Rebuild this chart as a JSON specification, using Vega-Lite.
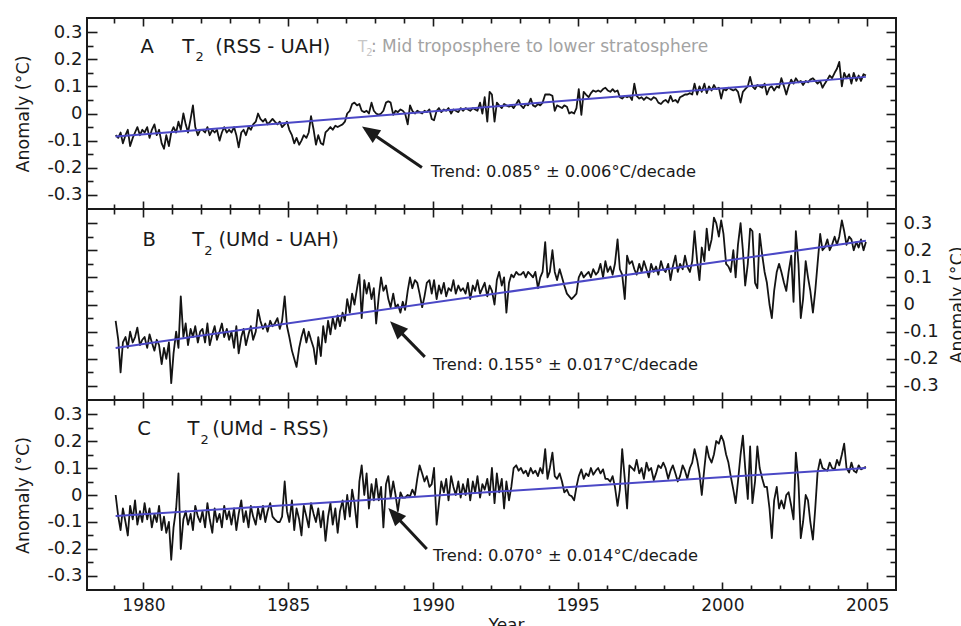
{
"$schema": "https://vega.github.io/schema/vega-lite/v6.json",
"padding": {"left": 13, "top": 16, "right": 0, "bottom": 0},
"config": {"font": "DejaVu Sans", "view": {"stroke": "#1a1a1a", "strokeWidth": 2}},
"spacing": 0,
"bounds": "flush",
"datasets": {
"trend": [
{"p":"A","t":1979.04,"v":-0.085},{"p":"A","t":2004.96,"v":0.135},
{"p":"B","t":1979.04,"v":-0.16},{"p":"B","t":2004.96,"v":0.235},
{"p":"C","t":1979.04,"v":-0.078},{"p":"C","t":2004.96,"v":0.1}
],
"series": [
{"t":1979.04,"a":-0.08,"b":-0.06,"c":0},{"t":1979.13,"a":-0.09,"b":-0.13,"c":-0.08},{"t":1979.21,"a":-0.07,"b":-0.25,"c":-0.13},{"t":1979.29,"a":-0.11,"b":-0.14,"c":-0.05},{"t":1979.38,"a":-0.08,"b":-0.12,"c":-0.1},{"t":1979.46,"a":-0.06,"b":-0.16,"c":-0.15},{"t":1979.54,"a":-0.12,"b":-0.1,"c":-0.04},{"t":1979.63,"a":-0.09,"b":-0.14,"c":-0.09},{"t":1979.71,"a":-0.07,"b":-0.12,"c":-0.02},{"t":1979.79,"a":-0.05,"b":-0.085,"c":-0.11},{"t":1979.88,"a":-0.08,"b":-0.15,"c":-0.06},{"t":1979.96,"a":-0.06,"b":-0.13,"c":-0.1},
{"t":1980.04,"a":-0.07,"b":-0.12,"c":-0.03},{"t":1980.13,"a":-0.05,"b":-0.16,"c":-0.09},{"t":1980.21,"a":-0.09,"b":-0.11,"c":-0.05},{"t":1980.29,"a":-0.06,"b":-0.14,"c":-0.12},{"t":1980.38,"a":-0.04,"b":-0.17,"c":-0.07},{"t":1980.46,"a":-0.08,"b":-0.13,"c":-0.1},{"t":1980.54,"a":-0.06,"b":-0.15,"c":-0.04},{"t":1980.63,"a":-0.11,"b":-0.22,"c":-0.13},{"t":1980.71,"a":-0.13,"b":-0.16,"c":-0.08},{"t":1980.79,"a":-0.08,"b":-0.2,"c":-0.14},{"t":1980.88,"a":-0.12,"b":-0.14,"c":-0.1},{"t":1980.96,"a":-0.07,"b":-0.29,"c":-0.24},
{"t":1981.04,"a":-0.05,"b":-0.18,"c":-0.12},{"t":1981.13,"a":-0.07,"b":-0.1,"c":-0.05},{"t":1981.21,"a":-0.03,"b":-0.16,"c":0.08},{"t":1981.29,"a":-0.06,"b":0.03,"c":-0.2},{"t":1981.38,"a":0,"b":-0.12,"c":-0.09},{"t":1981.46,"a":-0.04,"b":-0.07,"c":-0.06},{"t":1981.54,"a":-0.07,"b":-0.15,"c":-0.11},{"t":1981.63,"a":-0.02,"b":-0.09,"c":-0.07},{"t":1981.71,"a":0.03,"b":-0.12,"c":-0.13},{"t":1981.79,"a":-0.05,"b":-0.08,"c":-0.04},{"t":1981.88,"a":-0.08,"b":-0.14,"c":-0.08},{"t":1981.96,"a":-0.06,"b":-0.1,"c":-0.1},
{"t":1982.04,"a":-0.06,"b":-0.09,"c":-0.06},{"t":1982.13,"a":-0.07,"b":-0.14,"c":-0.12},{"t":1982.21,"a":-0.05,"b":-0.07,"c":-0.03},{"t":1982.29,"a":-0.08,"b":-0.15,"c":-0.09},{"t":1982.38,"a":-0.06,"b":-0.11,"c":-0.14},{"t":1982.46,"a":-0.07,"b":-0.08,"c":-0.05},{"t":1982.54,"a":-0.06,"b":-0.13,"c":-0.1},{"t":1982.63,"a":-0.1,"b":-0.1,"c":-0.07},{"t":1982.71,"a":-0.07,"b":-0.07,"c":-0.12},{"t":1982.79,"a":-0.05,"b":-0.12,"c":-0.04},{"t":1982.88,"a":-0.07,"b":-0.09,"c":-0.09},{"t":1982.96,"a":-0.06,"b":-0.13,"c":-0.06},
{"t":1983.04,"a":-0.07,"b":-0.1,"c":-0.11},{"t":1983.13,"a":-0.05,"b":-0.16,"c":-0.05},{"t":1983.21,"a":-0.08,"b":-0.08,"c":-0.13},{"t":1983.29,"a":-0.125,"b":-0.18,"c":-0.07},{"t":1983.38,"a":-0.07,"b":-0.12,"c":-0.02},{"t":1983.46,"a":-0.06,"b":-0.09,"c":-0.1},{"t":1983.54,"a":-0.08,"b":-0.15,"c":-0.06},{"t":1983.63,"a":-0.05,"b":-0.11,"c":-0.12},{"t":1983.71,"a":-0.06,"b":-0.08,"c":-0.04},{"t":1983.79,"a":-0.04,"b":-0.13,"c":-0.08},{"t":1983.88,"a":-0.03,"b":-0.1,"c":-0.11},{"t":1983.96,"a":0,"b":-0.02,"c":-0.05},
{"t":1984.04,"a":-0.02,"b":-0.06,"c":-0.09},{"t":1984.13,"a":-0.03,"b":-0.09,"c":-0.04},{"t":1984.21,"a":-0.02,"b":-0.07,"c":-0.1},{"t":1984.29,"a":-0.04,"b":-0.1,"c":-0.06},{"t":1984.38,"a":-0.03,"b":-0.06,"c":-0.03},{"t":1984.46,"a":-0.02,"b":-0.08,"c":-0.08},{"t":1984.54,"a":-0.03,"b":-0.07,"c":-0.09},{"t":1984.63,"a":-0.04,"b":-0.05,"c":-0.1},{"t":1984.71,"a":-0.03,"b":-0.09,"c":-0.1},{"t":1984.79,"a":-0.05,"b":-0.06,"c":-0.08},{"t":1984.88,"a":-0.04,"b":0.03,"c":0.05},{"t":1984.96,"a":-0.03,"b":-0.08,"c":-0.06},
{"t":1985.04,"a":-0.06,"b":-0.12,"c":-0.1},{"t":1985.13,"a":-0.08,"b":-0.17,"c":-0.02},{"t":1985.21,"a":-0.11,"b":-0.2,"c":-0.13},{"t":1985.29,"a":-0.09,"b":-0.23,"c":-0.05},{"t":1985.38,"a":-0.115,"b":-0.16,"c":-0.09},{"t":1985.46,"a":-0.1,"b":-0.12,"c":-0.15},{"t":1985.54,"a":-0.08,"b":-0.09,"c":-0.04},{"t":1985.63,"a":-0.09,"b":-0.14,"c":-0.08},{"t":1985.71,"a":-0.07,"b":-0.1,"c":-0.12},{"t":1985.79,"a":-0.01,"b":-0.13,"c":-0.03},{"t":1985.88,"a":-0.06,"b":-0.16,"c":-0.07},{"t":1985.96,"a":-0.115,"b":-0.22,"c":-0.1},
{"t":1986.04,"a":-0.08,"b":-0.12,"c":-0.05},{"t":1986.13,"a":-0.11,"b":-0.19,"c":-0.12},{"t":1986.21,"a":-0.115,"b":-0.08,"c":-0.06},{"t":1986.29,"a":-0.07,"b":-0.14,"c":-0.17},{"t":1986.38,"a":-0.06,"b":-0.06,"c":-0.08},{"t":1986.46,"a":-0.05,"b":-0.11,"c":-0.03},{"t":1986.54,"a":-0.06,"b":-0.05,"c":-0.11},{"t":1986.63,"a":-0.045,"b":-0.09,"c":-0.05},{"t":1986.71,"a":-0.05,"b":-0.04,"c":-0.14},{"t":1986.79,"a":-0.045,"b":-0.08,"c":-0.06},{"t":1986.88,"a":-0.04,"b":-0.03,"c":-0.02},{"t":1986.96,"a":-0.03,"b":-0.06,"c":-0.09},
{"t":1987.04,"a":0,"b":0.02,"c":0},{"t":1987.13,"a":0.01,"b":-0.03,"c":-0.08},{"t":1987.21,"a":0.035,"b":0.04,"c":0.02},{"t":1987.29,"a":0.04,"b":0,"c":-0.03},{"t":1987.38,"a":0.03,"b":0.06,"c":-0.12},{"t":1987.46,"a":0.035,"b":0.11,"c":0.05},{"t":1987.54,"a":0.01,"b":-0.05,"c":0.11},{"t":1987.63,"a":0.005,"b":0.09,"c":0},{"t":1987.71,"a":0.01,"b":0.04,"c":0.08},{"t":1987.79,"a":0,"b":0.08,"c":-0.05},{"t":1987.88,"a":0.04,"b":0.02,"c":0.04},{"t":1987.96,"a":0.01,"b":0.06,"c":-0.02},
{"t":1988.04,"a":0,"b":-0.07,"c":0.06},{"t":1988.13,"a":-0.005,"b":0.03,"c":-0.02},{"t":1988.21,"a":0,"b":0.1,"c":0.03},{"t":1988.29,"a":0.01,"b":0.05,"c":-0.12},{"t":1988.38,"a":0.04,"b":0.07,"c":0.04},{"t":1988.46,"a":0.045,"b":0.02,"c":0.07},{"t":1988.54,"a":0.04,"b":-0.01,"c":-0.01},{"t":1988.63,"a":-0.005,"b":0.04,"c":0.05},{"t":1988.71,"a":0.01,"b":-0.01,"c":0},{"t":1988.79,"a":0.005,"b":0,"c":-0.06},{"t":1988.88,"a":0.015,"b":-0.03,"c":0.01},{"t":1988.96,"a":0.01,"b":0.01,"c":-0.01},
{"t":1989.04,"a":0,"b":-0.02,"c":-0.01},{"t":1989.13,"a":-0.04,"b":0.05,"c":0},{"t":1989.21,"a":0.03,"b":0.1,"c":-0.005},{"t":1989.29,"a":0.01,"b":0.06,"c":0.02},{"t":1989.38,"a":0,"b":0.09,"c":0},{"t":1989.46,"a":0.01,"b":0.08,"c":0.06},{"t":1989.54,"a":0.005,"b":0.04,"c":0.11},{"t":1989.63,"a":0,"b":-0.01,"c":0.08},{"t":1989.71,"a":0.01,"b":0.03,"c":0.05},{"t":1989.79,"a":0.005,"b":0.08,"c":0.07},{"t":1989.88,"a":0.015,"b":0.09,"c":0.03},{"t":1989.96,"a":-0.02,"b":0.04,"c":0.04},
{"t":1990.04,"a":-0.025,"b":0.09,"c":0.1},{"t":1990.13,"a":0.01,"b":0.02,"c":-0.11},{"t":1990.21,"a":0.02,"b":0.07,"c":-0.03},{"t":1990.29,"a":0.005,"b":0.04,"c":0.05},{"t":1990.38,"a":0.015,"b":0.08,"c":0.01},{"t":1990.46,"a":0.01,"b":0.03,"c":0.06},{"t":1990.54,"a":0.02,"b":0.06,"c":-0.02},{"t":1990.63,"a":0,"b":0.05,"c":0.07},{"t":1990.71,"a":0.015,"b":0.09,"c":0.03},{"t":1990.79,"a":0.01,"b":0.04,"c":0},{"t":1990.88,"a":0.005,"b":0.07,"c":0.05},{"t":1990.96,"a":0.02,"b":0.05,"c":-0.01},
{"t":1991.04,"a":0.01,"b":0.06,"c":0.04},{"t":1991.13,"a":0.02,"b":0.04,"c":0},{"t":1991.21,"a":0.015,"b":0.08,"c":0.06},{"t":1991.29,"a":0.01,"b":0.02,"c":-0.02},{"t":1991.38,"a":0.02,"b":0.07,"c":0.05},{"t":1991.46,"a":0.015,"b":0.05,"c":0.01},{"t":1991.54,"a":0.01,"b":0.09,"c":0.07},{"t":1991.63,"a":0.04,"b":0.04,"c":-0.01},{"t":1991.71,"a":0,"b":0.06,"c":0.04},{"t":1991.79,"a":0.06,"b":0.08,"c":0.02},{"t":1991.88,"a":-0.03,"b":0.03,"c":0.06},{"t":1991.96,"a":0.08,"b":0.07,"c":0},
{"t":1992.04,"a":0.07,"b":0.05,"c":0.1},{"t":1992.13,"a":-0.03,"b":0,"c":-0.03},{"t":1992.21,"a":0.04,"b":0.09,"c":0.08},{"t":1992.29,"a":0.03,"b":0.12,"c":0.01},{"t":1992.38,"a":0.02,"b":0.07,"c":0.06},{"t":1992.46,"a":0.035,"b":0.1,"c":-0.05},{"t":1992.54,"a":0.03,"b":-0.03,"c":0.05},{"t":1992.63,"a":0.025,"b":0.08,"c":-0.02},{"t":1992.71,"a":0.03,"b":0.11,"c":0.03},{"t":1992.79,"a":0.02,"b":0.1,"c":0.1},{"t":1992.88,"a":0.035,"b":0.12,"c":0.11},{"t":1992.96,"a":0.05,"b":0.11,"c":0.09},
{"t":1993.04,"a":0.03,"b":0.11,"c":0.1},{"t":1993.13,"a":0.02,"b":0.12,"c":0.08},{"t":1993.21,"a":0.035,"b":0.1,"c":0.09},{"t":1993.29,"a":0.03,"b":0.12,"c":0.07},{"t":1993.38,"a":0.055,"b":0.11,"c":0.1},{"t":1993.46,"a":0.03,"b":0.1,"c":0.08},{"t":1993.54,"a":0.025,"b":0.12,"c":0.09},{"t":1993.63,"a":0.035,"b":0.06,"c":0.07},{"t":1993.71,"a":0.03,"b":0.1,"c":0.1},{"t":1993.79,"a":0.04,"b":0.12,"c":0.08},{"t":1993.88,"a":0.07,"b":0.23,"c":0.17},{"t":1993.96,"a":0.07,"b":0.1,"c":0.06},
{"t":1994.04,"a":0.07,"b":0.12,"c":0.1},{"t":1994.13,"a":0.065,"b":0.2,"c":0.157},{"t":1994.21,"a":0.01,"b":0.12,"c":0.07},{"t":1994.29,"a":0.03,"b":0.09,"c":0.06},{"t":1994.38,"a":0.025,"b":0.13,"c":0.08},{"t":1994.46,"a":0.02,"b":0.1,"c":0.05},{"t":1994.54,"a":0.03,"b":0.07,"c":0.01},{"t":1994.63,"a":0.025,"b":0.04,"c":0.02},{"t":1994.71,"a":0,"b":0.03,"c":0},{"t":1994.79,"a":0.005,"b":0.02,"c":-0.004},{"t":1994.88,"a":0,"b":0.03,"c":-0.02},{"t":1994.96,"a":0.02,"b":0.04,"c":0.03},
{"t":1995.04,"a":0.09,"b":0.1,"c":0.07},{"t":1995.13,"a":-0.005,"b":0.12,"c":0.095},{"t":1995.21,"a":0.08,"b":0.1,"c":0.06},{"t":1995.29,"a":0.07,"b":0.11,"c":0.08},{"t":1995.38,"a":0.06,"b":0.12,"c":0.07},{"t":1995.46,"a":0.075,"b":0.1,"c":0.1},{"t":1995.54,"a":0.085,"b":0.13,"c":0.075},{"t":1995.63,"a":0.08,"b":0.11,"c":0.09},{"t":1995.71,"a":0.085,"b":0.12,"c":0.1},{"t":1995.79,"a":0.08,"b":0.15,"c":0.08},{"t":1995.88,"a":0.09,"b":0.1,"c":0.095},{"t":1995.96,"a":0.095,"b":0.16,"c":0.06},
{"t":1996.04,"a":0.085,"b":0.12,"c":0.06},{"t":1996.13,"a":0.08,"b":0.14,"c":0.05},{"t":1996.21,"a":0.09,"b":0.11,"c":0.07},{"t":1996.29,"a":0.08,"b":0.15,"c":0.03},{"t":1996.38,"a":0.085,"b":0.24,"c":-0.04},{"t":1996.46,"a":0.06,"b":0.13,"c":0.02},{"t":1996.54,"a":0.055,"b":0.11,"c":0.17},{"t":1996.63,"a":0.065,"b":0.02,"c":0.06},{"t":1996.71,"a":0.06,"b":0.18,"c":-0.05},{"t":1996.79,"a":0.065,"b":0.15,"c":0.11},{"t":1996.88,"a":0.05,"b":0.16,"c":0.1},{"t":1996.96,"a":0.11,"b":0.13,"c":0.09},
{"t":1997.04,"a":0.065,"b":0.11,"c":0.13},{"t":1997.13,"a":0.055,"b":0.15,"c":0.08},{"t":1997.21,"a":0.06,"b":0.12,"c":0.1},{"t":1997.29,"a":0.05,"b":0.16,"c":0.06},{"t":1997.38,"a":0.06,"b":0.13,"c":0.12},{"t":1997.46,"a":0.055,"b":0.1,"c":0.09},{"t":1997.54,"a":0.05,"b":0.15,"c":0.1},{"t":1997.63,"a":0.06,"b":0.12,"c":0.055},{"t":1997.71,"a":0.055,"b":0.14,"c":0.08},{"t":1997.79,"a":0.04,"b":0.11,"c":0.11},{"t":1997.88,"a":0.035,"b":0.16,"c":0.1},{"t":1997.96,"a":0.045,"b":0.13,"c":0.12},
{"t":1998.04,"a":0.05,"b":0.12,"c":0.1},{"t":1998.13,"a":0.04,"b":0.15,"c":0.06},{"t":1998.21,"a":0.065,"b":0.09,"c":0.09},{"t":1998.29,"a":0.045,"b":0.14,"c":0.11},{"t":1998.38,"a":0.05,"b":0.18,"c":0.08},{"t":1998.46,"a":0.04,"b":0.12,"c":0.05},{"t":1998.54,"a":0.06,"b":0.15,"c":0.07},{"t":1998.63,"a":0.065,"b":0.13,"c":0.11},{"t":1998.71,"a":0.07,"b":0.18,"c":0.09},{"t":1998.79,"a":0.07,"b":0.14,"c":0.06},{"t":1998.88,"a":0.075,"b":0.12,"c":0.1},{"t":1998.96,"a":0.07,"b":0.16,"c":0.12},
{"t":1999.04,"a":0.11,"b":0.27,"c":0.17},{"t":1999.13,"a":0.07,"b":0.16,"c":0.13},{"t":1999.21,"a":0.1,"b":0.09,"c":0.08},{"t":1999.29,"a":0.08,"b":0.21,"c":0},{"t":1999.38,"a":0.11,"b":0.16,"c":0.1},{"t":1999.46,"a":0.075,"b":0.28,"c":0.18},{"t":1999.54,"a":0.1,"b":0.2,"c":0.14},{"t":1999.63,"a":0.085,"b":0.24,"c":0.12},{"t":1999.71,"a":0.105,"b":0.32,"c":0.15},{"t":1999.79,"a":0.09,"b":0.3,"c":0.2},{"t":1999.88,"a":0.095,"b":0.25,"c":0.19},{"t":1999.96,"a":0.055,"b":0.31,"c":0.22},
{"t":2000.04,"a":0.09,"b":0.26,"c":0.2},{"t":2000.13,"a":0.085,"b":0.15,"c":0.15},{"t":2000.21,"a":0.095,"b":0.14,"c":0.12},{"t":2000.29,"a":0.09,"b":0.12,"c":0.07},{"t":2000.38,"a":0.085,"b":0.2,"c":0.02},{"t":2000.46,"a":0.09,"b":0.1,"c":-0.03},{"t":2000.54,"a":0.08,"b":0.22,"c":0.05},{"t":2000.63,"a":0.04,"b":0.3,"c":0.15},{"t":2000.71,"a":0.08,"b":0.2,"c":0.22},{"t":2000.79,"a":0.09,"b":0.07,"c":0.1},{"t":2000.88,"a":0.1,"b":0.15,"c":-0.015},{"t":2000.96,"a":0.135,"b":0.28,"c":0.18},
{"t":2001.04,"a":0.1,"b":0.27,"c":-0.03},{"t":2001.13,"a":0.09,"b":0.08,"c":0.05},{"t":2001.21,"a":0.105,"b":0.06,"c":0.18},{"t":2001.29,"a":0.1,"b":0.26,"c":0.1},{"t":2001.38,"a":0.095,"b":0.18,"c":0.06},{"t":2001.46,"a":0.11,"b":0.12,"c":0.03},{"t":2001.54,"a":0.07,"b":0.08,"c":0.03},{"t":2001.63,"a":0.095,"b":0,"c":-0.05},{"t":2001.71,"a":0.1,"b":-0.05,"c":-0.16},{"t":2001.79,"a":0.085,"b":0.05,"c":-0.02},{"t":2001.88,"a":0.1,"b":0.12,"c":0.03},{"t":2001.96,"a":0.095,"b":0.15,"c":-0.05},
{"t":2002.04,"a":0.13,"b":0.12,"c":-0.02},{"t":2002.13,"a":0.1,"b":0.08,"c":-0.05},{"t":2002.21,"a":0.07,"b":0.05,"c":0},{"t":2002.29,"a":0.1,"b":0.12,"c":0.01},{"t":2002.38,"a":0.125,"b":0.18,"c":-0.04},{"t":2002.46,"a":0.11,"b":0.01,"c":-0.09},{"t":2002.54,"a":0.13,"b":0.27,"c":0.157},{"t":2002.63,"a":0.115,"b":0.15,"c":0.05},{"t":2002.71,"a":0.12,"b":-0.05,"c":-0.16},{"t":2002.79,"a":0.105,"b":0.02,"c":-0.1},{"t":2002.88,"a":0.12,"b":0.16,"c":0},{"t":2002.96,"a":0.115,"b":0.1,"c":-0.02},
{"t":2003.04,"a":0.125,"b":0.05,"c":-0.1},{"t":2003.13,"a":0.13,"b":-0.03,"c":-0.165},{"t":2003.21,"a":0.12,"b":0.05,"c":-0.05},{"t":2003.29,"a":0.11,"b":0.15,"c":0.083},{"t":2003.38,"a":0.12,"b":0.26,"c":0.132},{"t":2003.46,"a":0.095,"b":0.2,"c":0.1},{"t":2003.54,"a":0.11,"b":0.21,"c":0.095},{"t":2003.63,"a":0.125,"b":0.24,"c":0.09},{"t":2003.71,"a":0.14,"b":0.2,"c":0.12},{"t":2003.79,"a":0.13,"b":0.22,"c":0.1},{"t":2003.88,"a":0.15,"b":0.25,"c":0.095},{"t":2003.96,"a":0.165,"b":0.22,"c":0.13},
{"t":2004.04,"a":0.19,"b":0.25,"c":0.11},{"t":2004.13,"a":0.1,"b":0.31,"c":0.15},{"t":2004.21,"a":0.15,"b":0.27,"c":0.19},{"t":2004.29,"a":0.13,"b":0.22,"c":0.1},{"t":2004.38,"a":0.145,"b":0.25,"c":0.083},{"t":2004.46,"a":0.11,"b":0.24,"c":0.12},{"t":2004.54,"a":0.15,"b":0.2,"c":0.09},{"t":2004.63,"a":0.12,"b":0.23,"c":0.083},{"t":2004.71,"a":0.14,"b":0.21,"c":0.11},{"t":2004.79,"a":0.12,"b":0.24,"c":0.095},{"t":2004.88,"a":0.145,"b":0.2,"c":0.1},{"t":2004.96,"a":0.14,"b":0.23,"c":0.105}
]
},
"vconcat": [
{
"width": 809, "height": 191,
"resolve": {"axis": {"x": "independent", "y": "independent"}},
"layer": [
{"data": {"name": "series"}, "mark": {"type": "line", "color": "#141414", "strokeWidth": 1.8, "strokeJoin": "round"},
 "encoding": {
  "x": {"field": "t", "type": "quantitative", "scale": {"domain": [1978.05, 2006], "nice": false, "zero": false},
   "axis": {"orient": "bottom", "values": [1979,1980,1981,1982,1983,1984,1985,1986,1987,1988,1989,1990,1991,1992,1993,1994,1995,1996,1997,1998,1999,2000,2001,2002,2003,2004,2005], "domain": false, "grid": false, "labels": false, "title": null, "tickColor": "#1a1a1a", "tickWidth": 1.6, "tickSize": {"condition": {"test": "datum.value % 5 === 0", "value": -8}, "value": -5}}},
  "y": {"field": "a", "type": "quantitative", "scale": {"domain": [-0.352, 0.352], "nice": false, "zero": false},
   "axis": {"orient": "left", "values": [-0.3,-0.25,-0.2,-0.15,-0.1,-0.05,0,0.05,0.1,0.15,0.2,0.25,0.3], "domain": false, "grid": false, "tickColor": "#1a1a1a", "tickWidth": 1.6, "tickSize": {"condition": {"test": "abs(datum.value*10 - round(datum.value*10)) < 0.001", "value": -10}, "value": -6}, "labelExpr": "abs(datum.value*10 - round(datum.value*10)) < 0.001 ? (datum.value == 0 ? '0' : (datum.value < 0 ? '-' : '') + format(abs(datum.value), '.1f')) : ''", "labelFontSize": 18, "labelColor": "#1a1a1a", "labelPadding": 15, "labelFlush": false, "labelOverlap": false, "title": "Anomaly (°C)", "titleFontSize": 17.5, "titleFontWeight": "normal", "titleColor": "#1a1a1a", "titlePadding": 14}}
 }},
{"data": {"name": "trend"}, "transform": [{"filter": "datum.p === 'A'"}], "mark": {"type": "line", "color": "#4b48c6", "strokeWidth": 2},
 "encoding": {
  "x": {"field": "t", "type": "quantitative", "scale": {"domain": [1978.05, 2006], "nice": false, "zero": false},
   "axis": {"orient": "top", "values": [1979,1980,1981,1982,1983,1984,1985,1986,1987,1988,1989,1990,1991,1992,1993,1994,1995,1996,1997,1998,1999,2000,2001,2002,2003,2004,2005], "domain": false, "grid": false, "labels": false, "title": null, "tickColor": "#1a1a1a", "tickWidth": 1.6, "tickSize": {"condition": {"test": "datum.value % 5 === 0", "value": -8}, "value": -5}}},
  "y": {"field": "v", "type": "quantitative", "scale": {"domain": [-0.352, 0.352], "nice": false, "zero": false},
   "axis": {"orient": "right", "values": [-0.3,-0.25,-0.2,-0.15,-0.1,-0.05,0,0.05,0.1,0.15,0.2,0.25,0.3], "domain": false, "grid": false, "labels": false, "title": null, "tickColor": "#1a1a1a", "tickWidth": 1.6, "tickSize": {"condition": {"test": "abs(datum.value*10 - round(datum.value*10)) < 0.001", "value": -10}, "value": -6}}}
 }},
{"data": {"values": [{}]}, "mark": {"type": "text", "text": "A", "fontSize": 19.5, "align": "left", "baseline": "middle", "color": "#1a1a1a"},
 "encoding": {"x": {"datum": 1979.9, "type": "quantitative", "axis": null}, "y": {"datum": 0.245, "type": "quantitative", "axis": null}}},
{"data": {"values": [{}]}, "mark": {"type": "text", "text": "T", "fontSize": 19.5, "align": "left", "baseline": "middle", "color": "#1a1a1a"},
 "encoding": {"x": {"datum": 1981.34, "type": "quantitative", "axis": null}, "y": {"datum": 0.245, "type": "quantitative", "axis": null}}},
{"data": {"values": [{}]}, "mark": {"type": "text", "text": "2", "fontSize": 13, "align": "left", "baseline": "middle", "color": "#1a1a1a"},
 "encoding": {"x": {"datum": 1981.8, "type": "quantitative", "axis": null}, "y": {"datum": 0.21, "type": "quantitative", "axis": null}}},
{"data": {"values": [{}]}, "mark": {"type": "text", "text": "(RSS - UAH)", "fontSize": 19.5, "align": "left", "baseline": "middle", "color": "#1a1a1a"},
 "encoding": {"x": {"datum": 1982.48, "type": "quantitative", "axis": null}, "y": {"datum": 0.245, "type": "quantitative", "axis": null}}},
{"data": {"values": [{}]}, "mark": {"type": "text", "text": "T", "fontSize": 15, "align": "left", "baseline": "middle", "color": "#c6c6c6"},
 "encoding": {"x": {"datum": 1987.41, "type": "quantitative", "axis": null}, "y": {"datum": 0.245, "type": "quantitative", "axis": null}}},
{"data": {"values": [{}]}, "mark": {"type": "text", "text": "2", "fontSize": 10, "align": "left", "baseline": "middle", "color": "#c6c6c6"},
 "encoding": {"x": {"datum": 1987.7, "type": "quantitative", "axis": null}, "y": {"datum": 0.222, "type": "quantitative", "axis": null}}},
{"data": {"values": [{}]}, "mark": {"type": "text", "text": ": Mid troposphere to lower stratosphere", "fontSize": 17, "align": "left", "baseline": "middle", "color": "#a3a3a3"},
 "encoding": {"x": {"datum": 1987.86, "type": "quantitative", "axis": null}, "y": {"datum": 0.245, "type": "quantitative", "axis": null}}},
{"data": {"values": [{}]}, "mark": {"type": "text", "text": "Trend: 0.085° ± 0.006°C/decade", "fontSize": 16.3, "align": "left", "baseline": "middle", "color": "#1a1a1a"},
 "encoding": {"x": {"datum": 1989.93, "type": "quantitative", "axis": null}, "y": {"datum": -0.217, "type": "quantitative", "axis": null}}},
{"data": {"values": [{}]}, "mark": {"type": "rule", "color": "#1a1a1a", "strokeWidth": 3},
 "encoding": {"x": {"datum": 1989.62, "type": "quantitative", "axis": null}, "y": {"datum": -0.199, "type": "quantitative", "axis": null}, "x2": {"datum": 1987.81}, "y2": {"datum": -0.067}}},
{"data": {"values": [{}]}, "mark": {"type": "point", "shape": "M0,0L0.42,1L-0.42,1Z", "filled": true, "size": 1300, "angle": 304, "color": "#1a1a1a", "opacity": 1, "strokeWidth": 0},
 "encoding": {"x": {"datum": 1987.55, "type": "quantitative", "axis": null}, "y": {"datum": -0.048, "type": "quantitative", "axis": null}}}
]
},
{
"width": 809, "height": 191,
"resolve": {"axis": {"x": "independent", "y": "independent"}},
"layer": [
{"data": {"name": "series"}, "mark": {"type": "line", "color": "#141414", "strokeWidth": 1.8, "strokeJoin": "round"},
 "encoding": {
  "x": {"field": "t", "type": "quantitative", "scale": {"domain": [1978.05, 2006], "nice": false, "zero": false},
   "axis": {"orient": "bottom", "values": [1979,1980,1981,1982,1983,1984,1985,1986,1987,1988,1989,1990,1991,1992,1993,1994,1995,1996,1997,1998,1999,2000,2001,2002,2003,2004,2005], "domain": false, "grid": false, "labels": false, "title": null, "tickColor": "#1a1a1a", "tickWidth": 1.6, "tickSize": {"condition": {"test": "datum.value % 5 === 0", "value": -8}, "value": -5}}},
  "y": {"field": "b", "type": "quantitative", "scale": {"domain": [-0.352, 0.352], "nice": false, "zero": false},
   "axis": {"orient": "left", "values": [-0.3,-0.25,-0.2,-0.15,-0.1,-0.05,0,0.05,0.1,0.15,0.2,0.25,0.3], "domain": false, "grid": false, "labels": false, "title": null, "tickColor": "#1a1a1a", "tickWidth": 1.6, "tickSize": {"condition": {"test": "abs(datum.value*10 - round(datum.value*10)) < 0.001", "value": -10}, "value": -6}}}
 }},
{"data": {"name": "trend"}, "transform": [{"filter": "datum.p === 'B'"}], "mark": {"type": "line", "color": "#4b48c6", "strokeWidth": 2},
 "encoding": {
  "x": {"field": "t", "type": "quantitative", "scale": {"domain": [1978.05, 2006], "nice": false, "zero": false},
   "axis": {"orient": "top", "values": [1979,1980,1981,1982,1983,1984,1985,1986,1987,1988,1989,1990,1991,1992,1993,1994,1995,1996,1997,1998,1999,2000,2001,2002,2003,2004,2005], "domain": false, "grid": false, "labels": false, "title": null, "tickColor": "#1a1a1a", "tickWidth": 1.6, "tickSize": {"condition": {"test": "datum.value % 5 === 0", "value": -8}, "value": -5}}},
  "y": {"field": "v", "type": "quantitative", "scale": {"domain": [-0.352, 0.352], "nice": false, "zero": false},
   "axis": {"orient": "right", "values": [-0.3,-0.25,-0.2,-0.15,-0.1,-0.05,0,0.05,0.1,0.15,0.2,0.25,0.3], "domain": false, "grid": false, "tickColor": "#1a1a1a", "tickWidth": 1.6, "tickSize": {"condition": {"test": "abs(datum.value*10 - round(datum.value*10)) < 0.001", "value": -10}, "value": -6}, "labelExpr": "abs(datum.value*10 - round(datum.value*10)) < 0.001 ? (datum.value == 0 ? '0' : (datum.value < 0 ? '-' : '') + format(abs(datum.value), '.1f')) : ''", "labelFontSize": 18, "labelColor": "#1a1a1a", "labelPadding": 17, "labelFlush": false, "labelOverlap": false, "title": "Anomaly (°C)", "titleFontSize": 17.5, "titleFontWeight": "normal", "titleColor": "#1a1a1a", "titlePadding": 10, "titleAngle": 270, "titleBaseline": "top"}}
 }},
{"data": {"values": [{}]}, "mark": {"type": "text", "text": "B", "fontSize": 19.5, "align": "left", "baseline": "middle", "color": "#1a1a1a"},
 "encoding": {"x": {"datum": 1979.97, "type": "quantitative", "axis": null}, "y": {"datum": 0.239, "type": "quantitative", "axis": null}}},
{"data": {"values": [{}]}, "mark": {"type": "text", "text": "T", "fontSize": 19.5, "align": "left", "baseline": "middle", "color": "#1a1a1a"},
 "encoding": {"x": {"datum": 1981.69, "type": "quantitative", "axis": null}, "y": {"datum": 0.239, "type": "quantitative", "axis": null}}},
{"data": {"values": [{}]}, "mark": {"type": "text", "text": "2", "fontSize": 13, "align": "left", "baseline": "middle", "color": "#1a1a1a"},
 "encoding": {"x": {"datum": 1982.1, "type": "quantitative", "axis": null}, "y": {"datum": 0.196, "type": "quantitative", "axis": null}}},
{"data": {"values": [{}]}, "mark": {"type": "text", "text": "(UMd - UAH)", "fontSize": 19.5, "align": "left", "baseline": "middle", "color": "#1a1a1a"},
 "encoding": {"x": {"datum": 1982.59, "type": "quantitative", "axis": null}, "y": {"datum": 0.239, "type": "quantitative", "axis": null}}},
{"data": {"values": [{}]}, "mark": {"type": "text", "text": "Trend: 0.155° ± 0.017°C/decade", "fontSize": 16.3, "align": "left", "baseline": "middle", "color": "#1a1a1a"},
 "encoding": {"x": {"datum": 1990.0, "type": "quantitative", "axis": null}, "y": {"datum": -0.222, "type": "quantitative", "axis": null}}},
{"data": {"values": [{}]}, "mark": {"type": "rule", "color": "#1a1a1a", "strokeWidth": 3},
 "encoding": {"x": {"datum": 1989.72, "type": "quantitative", "axis": null}, "y": {"datum": -0.193, "type": "quantitative", "axis": null}, "x2": {"datum": 1988.74}, "y2": {"datum": -0.086}}},
{"data": {"values": [{}]}, "mark": {"type": "point", "shape": "M0,0L0.42,1L-0.42,1Z", "filled": true, "size": 1300, "angle": 315, "color": "#1a1a1a", "opacity": 1, "strokeWidth": 0},
 "encoding": {"x": {"datum": 1988.52, "type": "quantitative", "axis": null}, "y": {"datum": -0.062, "type": "quantitative", "axis": null}}}
]
},
{
"width": 809, "height": 190,
"resolve": {"axis": {"x": "independent", "y": "independent"}},
"layer": [
{"data": {"name": "series"}, "mark": {"type": "line", "color": "#141414", "strokeWidth": 1.8, "strokeJoin": "round"},
 "encoding": {
  "x": {"field": "t", "type": "quantitative", "scale": {"domain": [1978.05, 2006], "nice": false, "zero": false},
   "axis": {"orient": "bottom", "values": [1979,1980,1981,1982,1983,1984,1985,1986,1987,1988,1989,1990,1991,1992,1993,1994,1995,1996,1997,1998,1999,2000,2001,2002,2003,2004,2005], "domain": false, "grid": false, "tickColor": "#1a1a1a", "tickWidth": 1.6, "tickSize": {"condition": {"test": "datum.value % 5 === 0", "value": -8}, "value": -5}, "labelExpr": "datum.value % 5 === 0 ? toString(datum.value) : ''", "labelFontSize": 17, "labelColor": "#1a1a1a", "labelPadding": 15, "labelFlush": false, "labelOverlap": false, "labelBound": false, "title": "Year", "titleFontSize": 17, "titleFontWeight": "normal", "titleColor": "#1a1a1a", "titlePadding": 1, "titleX": 419}},
  "y": {"field": "c", "type": "quantitative", "scale": {"domain": [-0.352, 0.352], "nice": false, "zero": false},
   "axis": {"orient": "left", "values": [-0.3,-0.25,-0.2,-0.15,-0.1,-0.05,0,0.05,0.1,0.15,0.2,0.25,0.3], "domain": false, "grid": false, "tickColor": "#1a1a1a", "tickWidth": 1.6, "tickSize": {"condition": {"test": "abs(datum.value*10 - round(datum.value*10)) < 0.001", "value": -10}, "value": -6}, "labelExpr": "abs(datum.value*10 - round(datum.value*10)) < 0.001 ? (datum.value == 0 ? '0' : (datum.value < 0 ? '-' : '') + format(abs(datum.value), '.1f')) : ''", "labelFontSize": 18, "labelColor": "#1a1a1a", "labelPadding": 15, "labelFlush": false, "labelOverlap": false, "title": "Anomaly (°C)", "titleFontSize": 17.5, "titleFontWeight": "normal", "titleColor": "#1a1a1a", "titlePadding": 14}}
 }},
{"data": {"name": "trend"}, "transform": [{"filter": "datum.p === 'C'"}], "mark": {"type": "line", "color": "#4b48c6", "strokeWidth": 2},
 "encoding": {
  "x": {"field": "t", "type": "quantitative", "scale": {"domain": [1978.05, 2006], "nice": false, "zero": false},
   "axis": {"orient": "top", "values": [1979,1980,1981,1982,1983,1984,1985,1986,1987,1988,1989,1990,1991,1992,1993,1994,1995,1996,1997,1998,1999,2000,2001,2002,2003,2004,2005], "domain": false, "grid": false, "labels": false, "title": null, "tickColor": "#1a1a1a", "tickWidth": 1.6, "tickSize": {"condition": {"test": "datum.value % 5 === 0", "value": -8}, "value": -5}}},
  "y": {"field": "v", "type": "quantitative", "scale": {"domain": [-0.352, 0.352], "nice": false, "zero": false},
   "axis": {"orient": "right", "values": [-0.3,-0.25,-0.2,-0.15,-0.1,-0.05,0,0.05,0.1,0.15,0.2,0.25,0.3], "domain": false, "grid": false, "labels": false, "title": null, "tickColor": "#1a1a1a", "tickWidth": 1.6, "tickSize": {"condition": {"test": "abs(datum.value*10 - round(datum.value*10)) < 0.001", "value": -10}, "value": -6}}}
 }},
{"data": {"values": [{}]}, "mark": {"type": "text", "text": "C", "fontSize": 19.5, "align": "left", "baseline": "middle", "color": "#1a1a1a"},
 "encoding": {"x": {"datum": 1979.79, "type": "quantitative", "axis": null}, "y": {"datum": 0.246, "type": "quantitative", "axis": null}}},
{"data": {"values": [{}]}, "mark": {"type": "text", "text": "T", "fontSize": 19.5, "align": "left", "baseline": "middle", "color": "#1a1a1a"},
 "encoding": {"x": {"datum": 1981.52, "type": "quantitative", "axis": null}, "y": {"datum": 0.246, "type": "quantitative", "axis": null}}},
{"data": {"values": [{}]}, "mark": {"type": "text", "text": "2", "fontSize": 13, "align": "left", "baseline": "middle", "color": "#1a1a1a"},
 "encoding": {"x": {"datum": 1981.97, "type": "quantitative", "axis": null}, "y": {"datum": 0.204, "type": "quantitative", "axis": null}}},
{"data": {"values": [{}]}, "mark": {"type": "text", "text": "(UMd - RSS)", "fontSize": 19.5, "align": "left", "baseline": "middle", "color": "#1a1a1a"},
 "encoding": {"x": {"datum": 1982.38, "type": "quantitative", "axis": null}, "y": {"datum": 0.246, "type": "quantitative", "axis": null}}},
{"data": {"values": [{}]}, "mark": {"type": "text", "text": "Trend: 0.070° ± 0.014°C/decade", "fontSize": 16.3, "align": "left", "baseline": "middle", "color": "#1a1a1a"},
 "encoding": {"x": {"datum": 1990.0, "type": "quantitative", "axis": null}, "y": {"datum": -0.226, "type": "quantitative", "axis": null}}},
{"data": {"values": [{}]}, "mark": {"type": "rule", "color": "#1a1a1a", "strokeWidth": 3},
 "encoding": {"x": {"datum": 1989.79, "type": "quantitative", "axis": null}, "y": {"datum": -0.2, "type": "quantitative", "axis": null}, "x2": {"datum": 1988.67}, "y2": {"datum": -0.072}}},
{"data": {"values": [{}]}, "mark": {"type": "point", "shape": "M0,0L0.42,1L-0.42,1Z", "filled": true, "size": 1300, "angle": 317, "color": "#1a1a1a", "opacity": 1, "strokeWidth": 0},
 "encoding": {"x": {"datum": 1988.46, "type": "quantitative", "axis": null}, "y": {"datum": -0.048, "type": "quantitative", "axis": null}}}
]
}
]
}
